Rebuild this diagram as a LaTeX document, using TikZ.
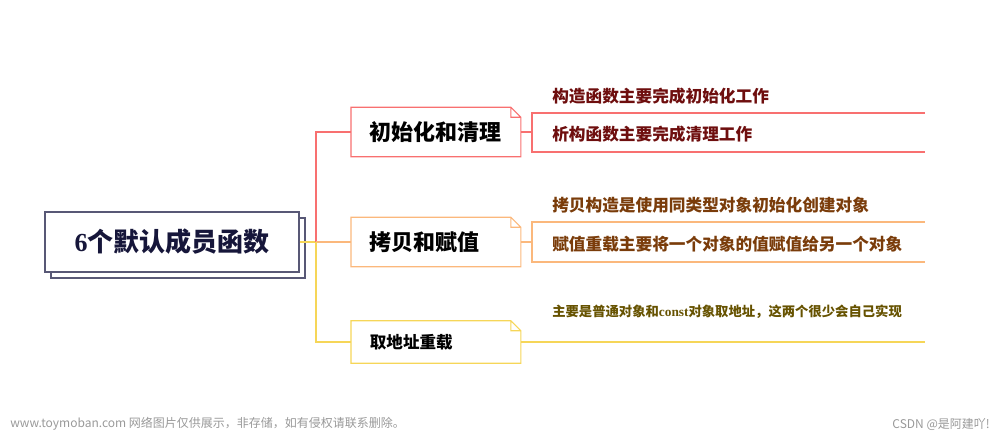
\documentclass[tikz,border=0pt]{standalone}
\usepackage{fontspec}
\setmainfont{Noto Sans CJK SC}
\newfontfamily\lat{Liberation Serif}
\usetikzlibrary{positioning}
\usetikzlibrary{shadows}
\definecolor{mainline}{RGB}{88,88,118}
\definecolor{maintext}{RGB}{22,22,58}
\definecolor{mindred}{RGB}{248,112,112}
\definecolor{mindorange}{RGB}{251,184,124}
\definecolor{mindyellow}{RGB}{246,214,88}
\definecolor{leafred}{RGB}{110,14,14}
\definecolor{leafbrown}{RGB}{122,60,10}
\definecolor{leafolive}{RGB}{102,82,0}
\tikzset{mainbox/.style={draw=mainline,fill=white,line width=0.9pt,
		minimum width=190.5pt,minimum height=45pt,
		copy shadow={shadow xshift=4.5pt,shadow yshift=-4.5pt,draw=mainline,fill=white},
		font=\fontsize{19.5}{22}\selectfont\bfseries,text=maintext}}
\tikzset{branch/.style={anchor=west,minimum height=#1,inner xsep=14pt,
		text width=99pt,align=left,font=\fontsize{16.5}{19}\selectfont\bfseries},
		branch/.default=36.75pt}
\tikzset{leaf/.style={anchor=west,inner sep=0pt,font=\fontsize{12.5}{15}\selectfont\bfseries}}
\tikzset{link/.style={line width=0.9pt}}

\begin{document}
\begin{tikzpicture}[x=0.75pt,y=-0.75pt]
	\useasboundingbox (0,0) rectangle (1000,432);

	\node[mainbox] (main) at (172,242) {{\lat 6}个默认成员函数};

	\node[branch] (init) at (351,132) {初始化和清理};
	\node[branch] (copy) at (351,242) {拷贝和赋值};
	\node[branch=31.5pt,font=\fontsize{12.4}{15}\selectfont\bfseries] (addr) at (351,342) {取地址重载};

	% folded corners
	\foreach \n/\c in {init/mindred,copy/mindorange,addr/mindyellow}
		\draw[link,\c] (\n.north west) -- ([xshift=-7.5pt]\n.north east)
			-- ([yshift=-7.5pt]\n.north east) -- (\n.south east) -- (\n.south west) -- cycle
			([xshift=-7.5pt]\n.north east) |- ([yshift=-7.5pt]\n.north east);

	\coordinate (trunk) at (316,242);
	\draw[link,mindyellow] (main.east) -- (trunk);
	\draw[link,mindred] (trunk) |- (init.west);
	\draw[link,mindorange] (trunk) -- (copy.west);
	\draw[link,mindyellow] (trunk) |- (addr.west);

	% leaves
	\coordinate (b1) at (532,132);
	\coordinate (b2) at (532,242);
	\coordinate (e1) at (925,113);
	\coordinate (e2) at (925,152);
	\coordinate (e3) at (925,222);
	\coordinate (e4) at (925,262);
	\coordinate (e5) at (925,342);
	\draw[link,mindred] (init.east) -- (b1) |- (e1) (b1) |- (e2);
	\draw[link,mindorange] (copy.east) -- (b2) |- (e3) (b2) |- (e4);
	\draw[link,mindyellow] (addr.east) -- (e5);

	\node[leaf,leafred] (l1) at (552,96) {构造函数主要完成初始化工作};
	\node[leaf,leafred] (l2) at (552,134) {析构函数主要完成清理工作};
	\node[leaf,leafbrown] (l3) at (552,205) {拷贝构造是使用同类型对象初始化创建对象};
	\node[leaf,leafbrown] (l4) at (552,244) {赋值重载主要将一个对象的值赋值给另一个对象};
	\node[leaf,leafolive,font=\fontsize{10}{12}\selectfont\bfseries] (l5) at (552,312)
		{主要是普通对象和{\lat const}对象取地址，这两个很少会自己实现};

	% watermark
	\node[anchor=west,inner sep=0pt,text=black!40,font=\fontsize{9}{11}\selectfont] (wm) at (10,424)
		{www.toymoban.com 网络图片仅供展示，非存储，如有侵权请联系删除。};
	\node[anchor=east,inner sep=0pt,text=black!40,font=\fontsize{9}{11}\selectfont] (csdn) at (990,424)
		{CSDN @是阿建吖!};
\end{tikzpicture}
\end{document}
